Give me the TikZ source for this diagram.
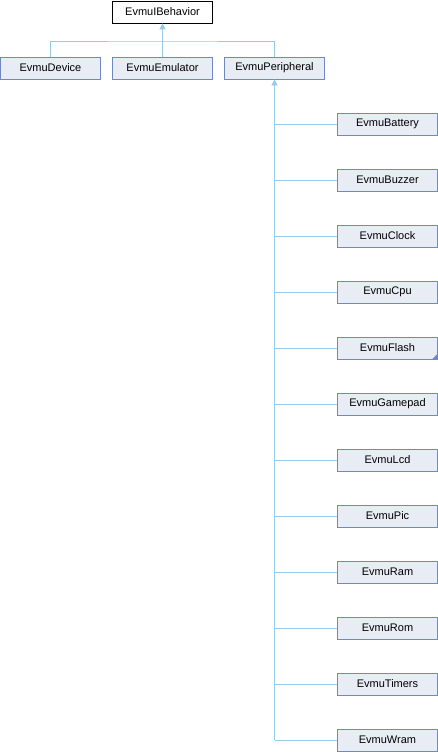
\documentclass[tikz,border=0pt]{standalone}
\usepackage{fontspec}
\setmainfont{Liberation Sans}
\usetikzlibrary{arrows.meta}
\definecolor{boxfill}{RGB}{232,236,245}
\definecolor{boxline}{RGB}{112,138,192}
\definecolor{edge}{RGB}{150,202,232}
\begin{document}
\begin{tikzpicture}[x=1pt,y=-1pt,
  cls/.style={draw=boxline,fill=boxfill,line width=0.8pt,minimum width=100pt,minimum height=22pt,inner sep=0pt,font=\fontsize{11}{13}\selectfont},
  root/.style={draw=black,fill=white,line width=0.8pt,minimum width=100pt,minimum height=22pt,inner sep=0pt,font=\fontsize{11}{13}\selectfont},
  inh/.style={draw=edge,line width=0.8pt},
  tip/.style={-{Triangle[length=6pt,width=6pt,fill=edge]}}]
\useasboundingbox (0,0) rectangle (438,752);
\node[root] (beh) at (162.5,12) {EvmuIBehavior};
\node[cls] (dev) at (50.5,68) {EvmuDevice};
\node[cls] (emu) at (162.5,68) {EvmuEmulator};
\node[cls] (per) at (274.5,68) {EvmuPeripheral};
\foreach \n/\t/\y in {bat/EvmuBattery/124,buz/EvmuBuzzer/180,clk/EvmuClock/236,cpu/EvmuCpu/292,fla/EvmuFlash/348,gam/EvmuGamepad/404,lcd/EvmuLcd/460,pic/EvmuPic/516,ram/EvmuRam/572,rom/EvmuRom/628,tim/EvmuTimers/684,wra/EvmuWram/740}{
  \node[cls] (\n) at (387.5,\y) {\t};
}
\fill[boxline] (fla.south east) -- ++(0,-6) -- ++(-6,6) -- cycle;
% top level inheritance
\coordinate (j) at (162.5,41);
\draw[inh] (dev.north) |- (j) -- (per.north |- j) -- (per.north);
\draw[inh] (emu.north) -- (j);
\draw[inh,tip] (j) -- (beh.south);
% peripheral subclasses
\draw[inh] (wra.west) -| (per.south |- wra.west);
\foreach \n in {bat,buz,clk,cpu,fla,gam,lcd,pic,ram,rom,tim}{
  \draw[inh] (\n.west) -- (per.south |- \n.west);
}
\draw[inh,tip] (per.south |- wra.west) -- (per.south);
\end{tikzpicture}
\end{document}
